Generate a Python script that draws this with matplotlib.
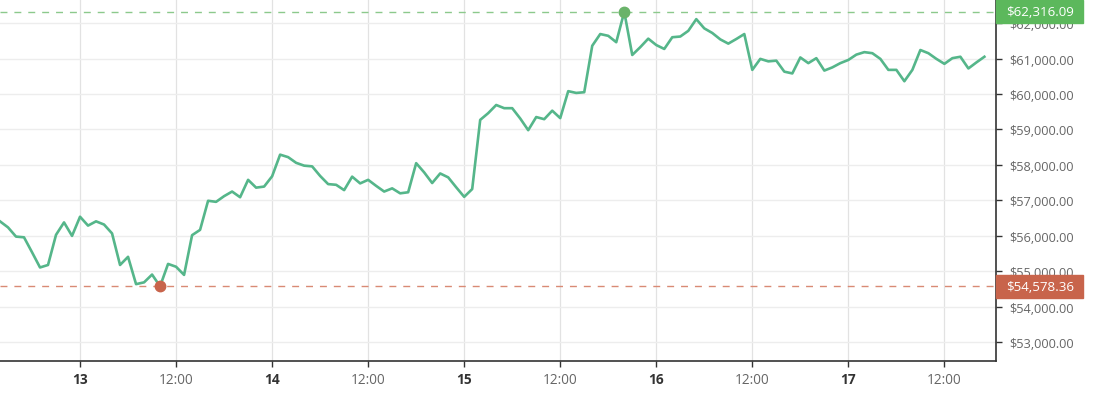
import datetime as dt
import matplotlib
matplotlib.use("Agg")
import matplotlib.pyplot as plt
import matplotlib.dates as mdates
from matplotlib.patches import Rectangle
from matplotlib.ticker import FuncFormatter

# hourly prices, first point 12th 14:00
start = dt.datetime(2021, 10, 12, 14, 0)
prices = [
    56410, 56240, 55980, 55960, 55540, 55110, 55180, 56030, 56380, 56000,
    56540, 56290, 56410, 56320, 56070, 55180, 55410, 54640, 54690, 54910,
    54578.36, 55210, 55130, 54900, 56020, 56170, 56990, 56960, 57120, 57250,
    57090, 57580, 57360, 57390, 57680, 58290, 58220, 58060, 57980, 57960,
    57690, 57460, 57440, 57290, 57670, 57480, 57580, 57410, 57250, 57340,
    57200, 57230, 58050, 57790, 57490, 57760, 57650, 57370, 57100, 57320,
    59270, 59460, 59690, 59600, 59600, 59310, 58980, 59350, 59290, 59530,
    59320, 60080, 60030, 60050, 61360, 61690, 61640, 61460, 62316.09, 61100,
    61320, 61560, 61380, 61270, 61600, 61620, 61780, 62110, 61850, 61720,
    61540, 61420, 61550, 61690, 60680, 60990, 60920, 60940, 60630, 60580,
    61030, 60870, 61010, 60660, 60750, 60870, 60960, 61110, 61180, 61150,
    60990, 60680, 60680, 60360, 60680, 61240, 61150, 60990, 60850, 61010,
    61050, 60720, 60890, 61050,
]
times = [start + dt.timedelta(hours=h) for h in range(len(prices))]

hi = max(prices); lo = min(prices)
t_hi = times[prices.index(hi)]; t_lo = times[prices.index(lo)]

LINE = "#55b68a"
GREEN = "#5cb85c"
RED = "#c8644b"

plt.rcParams["font.family"] = ["Open Sans", "DejaVu Sans"]

fig = plt.figure(figsize=(11.01, 4.02), dpi=100)
ax = fig.add_axes([0, 0.1002, 0.905, 0.8998])

ax.plot(times, prices, color=LINE, lw=1.9, zorder=3)
ax.axhline(hi, color="#8cc98c", lw=1, ls=(0, (5, 5)), zorder=2)
ax.axhline(lo, color="#d98a75", lw=1, ls=(0, (5, 5)), zorder=2)
ax.plot([t_hi], [hi], "o", color="#6ab36a", ms=7.5, zorder=4)
ax.plot([t_lo], [lo], "o", color="#c8644b", ms=7.5, zorder=4)

ax.set_xlim(start, start + dt.timedelta(hours=124.5))
ax.set_ylim(52481, 62678)

ax.yaxis.tick_right()
ax.set_yticks(range(53000, 62001, 1000))
ax.yaxis.set_major_formatter(FuncFormatter(lambda v, p: f"${v:,.2f}"))
ax.tick_params(axis="y", length=4, width=1, color="#333333", pad=5,
               labelsize=9.2, labelcolor="#666666")

xt = [dt.datetime(2021, 10, 13) + dt.timedelta(hours=12 * k) for k in range(10)]
ax.set_xticks(xt)
ax.set_xticklabels([t.strftime("%d").lstrip("0") if t.hour == 0 else "12:00" for t in xt])
for lab, t in zip(ax.get_xticklabels(), xt):
    if t.hour == 0:
        lab.set_fontweight("bold"); lab.set_color("#333333")
    else:
        lab.set_color("#666666")
ax.tick_params(axis="x", length=4, width=1, color="#333333", pad=4, labelsize=9.8)

ax.grid(axis="y", color="#ededed", lw=1)
ax.grid(axis="x", color="#e2e2e2", lw=0.9)
ax.set_axisbelow(True)
for side in ("left", "top"):
    ax.spines[side].set_visible(False)
for side in ("right", "bottom"):
    ax.spines[side].set_color("#333333")
    ax.spines[side].set_linewidth(1.2)

# value badges on the right axis
trans = ax.get_yaxis_transform()
bw = 87 / 996.3
bh = 23 * (62678 - 52481) / 361.7
for v, c in ((hi, GREEN), (lo, RED)):
    ax.add_patch(Rectangle((1.0, v - bh / 2), bw, bh, transform=trans,
                           color=c, clip_on=False, zorder=5))
    ax.text(1.0 + bw / 2, v, f"${v:,.2f}", transform=trans, ha="center",
            va="center", color="white", fontsize=9.6, zorder=6, clip_on=False)

fig.savefig("out.png", dpi=100)
